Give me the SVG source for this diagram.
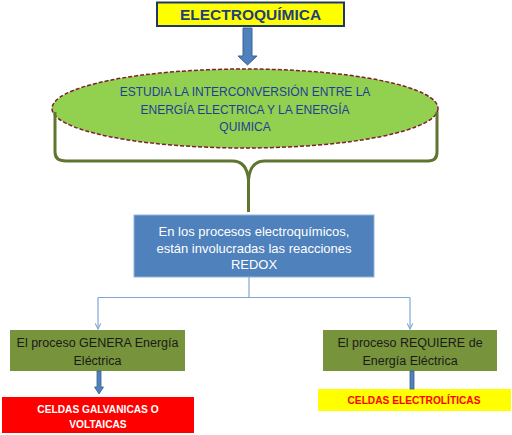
<svg xmlns="http://www.w3.org/2000/svg" width="512" height="435" viewBox="0 0 512 435">
<style>
.t{font-family:"Liberation Sans",Arial,sans-serif;text-anchor:middle}
.navy{fill:#1F3F96;font-size:12px}
.w{fill:#FFFFFF;font-size:13px}
.d{fill:#1A1A1A;font-size:12.5px}
.b{font-size:10.2px;font-weight:bold}
.thin{stroke:#7FA7D6;stroke-width:1.2;fill:none}
</style>
<defs>
<marker id="ah" viewBox="0 0 10 10" refX="9" refY="5" markerWidth="7" markerHeight="7" orient="auto" markerUnits="userSpaceOnUse">
<path d="M1,1 L9,5 L1,9" fill="none" stroke="#7FA7D6" stroke-width="1.5"/>
</marker>
</defs>
<rect width="512" height="435" fill="#FFFFFF"/>
<g id="title">
<rect x="157" y="2.5" width="187" height="23.5" fill="#FFFF00" stroke="#1F3864" stroke-width="2"/>
<text class="t" x="250.5" y="20" style="font-size:15.5px;font-weight:bold;fill:#1F3F7A">ELECTROQUÍMICA</text>
</g>
<g id="ellipse">
<ellipse cx="245" cy="108.5" rx="193" ry="39.5" fill="#92D050" stroke="#7F1F2F" stroke-width="1.5" stroke-dasharray="4,2"/>
<text class="t navy" x="245" y="96">ESTUDIA LA INTERCONVERSIÓN ENTRE LA</text>
<text class="t navy" x="245" y="114">ENERGÍA ELECTRICA Y LA ENERGÍA</text>
<text class="t navy" x="245" y="131">QUIMICA</text>
</g>
<g id="redox">
<rect x="134" y="215" width="240" height="62" fill="#4F81BD" stroke="#95B3D7" stroke-width="1"/>
<text class="t w" x="254" y="236">En los procesos electroquímicos,</text>
<text class="t w" x="254" y="252.5">están involucradas las reacciones</text>
<text class="t w" x="254" y="269">REDOX</text>
</g>
<g id="genera">
<rect x="10" y="330" width="175" height="41" fill="#77933C"/>
<text class="t d" x="97.5" y="347">El proceso GENERA Energía</text>
<text class="t d" x="97.5" y="365">Eléctrica</text>
</g>
<g id="requiere">
<rect x="323" y="330" width="174" height="41" fill="#77933C"/>
<text class="t d" x="410" y="347">El proceso REQUIERE de</text>
<text class="t d" x="410" y="365">Energía Eléctrica</text>
</g>
<g id="galvanicas">
<rect x="2" y="397" width="192" height="36" fill="#FF0000"/>
<text class="t b" x="98" y="413" fill="#FFFFFF">CELDAS GALVANICAS  O</text>
<text class="t b" x="98" y="428" fill="#FFFFFF">VOLTAICAS</text>
</g>
<g id="electroliticas">
<rect x="318" y="389" width="193" height="22" fill="#FFFF00"/>
<text class="t b" x="414" y="404" fill="#FF0000">CELDAS ELECTROLÍTICAS</text>
</g>
<g id="connectors">
<path d="M243,28 H252 V56 H257 L247.5,65 L238,56 H243 Z" fill="#4F81BD" stroke="#3A6296" stroke-width="1"/>
<path d="M55,112 V152 Q55,161 66,161 H232 Q247,161 248.5,180 Q250,161 265,161 H428 Q437,161 437,152 V112 M248.5,178 V212" fill="none" stroke="#5F7530" stroke-width="3" stroke-linejoin="round"/>
<path class="thin" d="M249,277 V297.5"/>
<path class="thin" d="M98,297.5 H410"/>
<path class="thin" d="M98,297.5 V329" marker-end="url(#ah)"/>
<path class="thin" d="M410,297.5 V329" marker-end="url(#ah)"/>
<path d="M97,371 H101 V387 H103.5 L99,394 L94.5,387 H97 Z" fill="#4F81BD" stroke="#385D8A" stroke-width="0.8"/>
<rect x="410" y="371" width="4" height="18" fill="#4F81BD" stroke="#385D8A" stroke-width="0.8"/>
</g>
</svg>
